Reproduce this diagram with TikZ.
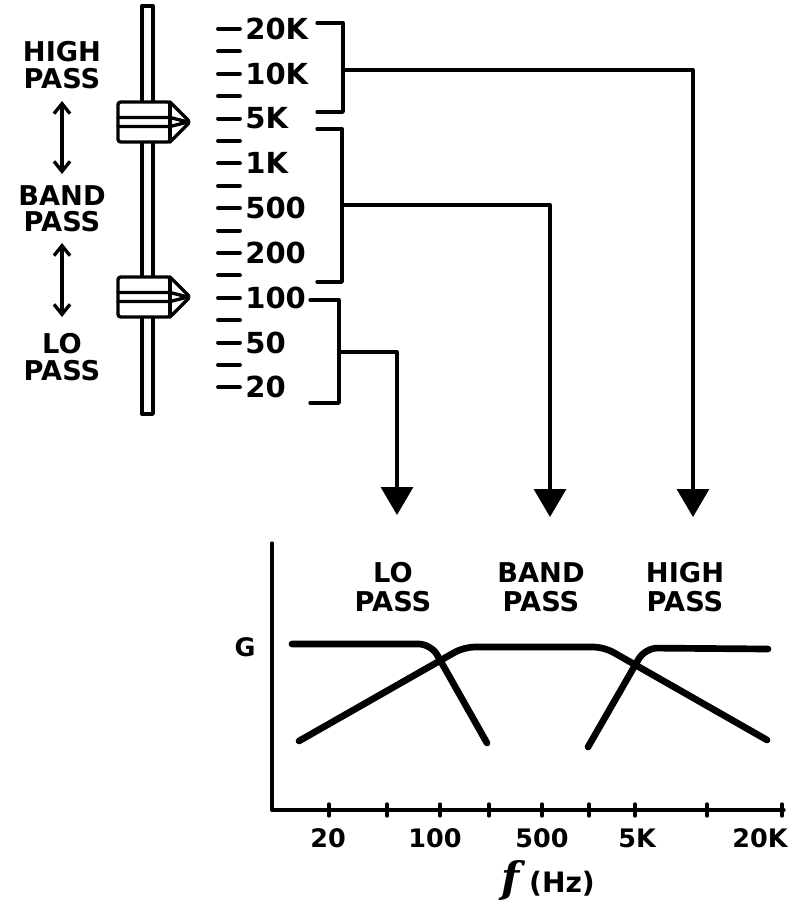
\documentclass[tikz,border=0pt]{standalone}
\usepackage{fontspec}
\setmainfont{DejaVu Sans}
\newfontfamily\fserif{DejaVu Serif}
\usetikzlibrary{arrows.meta}
\begin{document}
\begin{tikzpicture}[x=0.02cm,y=-0.02cm, line join=round, line cap=round,
		wire/.style={line width=1.9pt},
		curve/.style={line width=3.8pt},
		lbl/.style={font=\bfseries\fontsize{15.5}{15}\selectfont, align=center, inner sep=0pt},
		glbl/.style={font=\bfseries\fontsize{15.5}{16.4}\selectfont, align=center, inner sep=0pt},
		scl/.style={font=\bfseries\fontsize{16.5}{17}\selectfont, anchor=west, inner sep=0pt},
		tlbl/.style={font=\bfseries\fontsize{14.5}{15}\selectfont, inner sep=0pt},
		updown/.style={wire, {Straight Barb[length=0.2cm,width=0.32cm]}-{Straight Barb[length=0.2cm,width=0.32cm]}},
		down/.style={wire, -{Triangle[length=0.56cm,width=0.64cm]}}]
	\useasboundingbox (0,0) rectangle (793,907);
	% slider
	\draw[wire] (142,6) rectangle (153,414);
	\foreach \y/\n in {122/hk, 297/lk}{
		\filldraw[wire, fill=white, rounded corners=1.5pt] (118,\y-20) -- (170,\y-20) -- (190,\y) -- (170,\y+20) -- (118,\y+20) -- cycle;
		\draw[wire] (170,\y-20) -- (170,\y+20);
		\draw[wire] (118,\y-4.5) -- (170,\y-4.5) -- (188,\y);
		\draw[wire] (118,\y+4.5) -- (170,\y+4.5) -- (188,\y);
	}
	\node[lbl] (hp) at (62,65) {HIGH\\PASS};
	\node[lbl] (bp) at (62,208.5) {BAND\\PASS};
	\node[lbl] (lp) at (62,357) {LO\\PASS};
	\draw[updown, shorten <=0.72cm, shorten >=0.69cm] (hp.center) -- (bp.center);
	\draw[updown, shorten <=0.69cm, shorten >=0.8cm] (bp.center) -- (lp.center);
	% scale
	\foreach \i in {0,...,16}
		\draw[line width=2.2pt] (218,29+\i*22.4) -- (240,29+\i*22.4);
	\foreach \t [count=\k from 0] in {20K,10K,5K,1K,500,200,100,50,20}
		\node[scl] (s\k) at (245,29+\k*44.8) {\t};
	% brackets
	\draw[wire] (317,23) -- (343,23) -- (343,112) -- (317,112);
	\draw[wire] (317,129) -- (342,129) -- (342,282) -- (317,282);
	\draw[wire] (310,300) -- (339,300) -- (339,403) -- (310,403);
	\coordinate (hb) at (343,70);
	\coordinate (bb) at (342,205);
	\coordinate (lb) at (339,352);
	\coordinate (ht) at (693,517);
	\coordinate (bt) at (550,517);
	\coordinate (lt) at (397,515);
	\draw[down] (hb) -| (ht);
	\draw[down] (bb) -| (bt);
	\draw[down] (lb) -| (lt);
	% response graph
	\node[glbl] (gl) at (393,587) {LO\\PASS};
	\node[glbl] (gb) at (541,587) {BAND\\PASS};
	\node[glbl] (gh) at (685,587) {HIGH\\PASS};
	\node[tlbl] (g) at (245,647) {G};
	\draw[wire] (272,543) -- (272,810) -- (784,810);
	\foreach \x in {329,387,440,489,542,589,635,707,782}
		\draw[wire] (\x,804) -- (\x,816);
	\foreach \x/\t in {328/20, 435/100, 542/500, 637/5K, 760/20K}
		\node[tlbl] (f\t) at (\x,838) {\t};
	\node[tlbl, font=\bfseries\fontsize{16}{16}\selectfont] (fhz) at (548,880) {{\fserif\fontsize{24}{24}\selectfont\bfseries\itshape f} (Hz)};
	\draw[curve, rounded corners=7pt] (292,644) -- (431,644) -- (487,743);
	\draw[curve, rounded corners=6pt] (299,741) -- (464,647) -- (604,647) -- (767,740);
	\draw[curve, rounded corners=7pt] (588,747) -- (645,648) -- (768,649);
\end{tikzpicture}
\end{document}
